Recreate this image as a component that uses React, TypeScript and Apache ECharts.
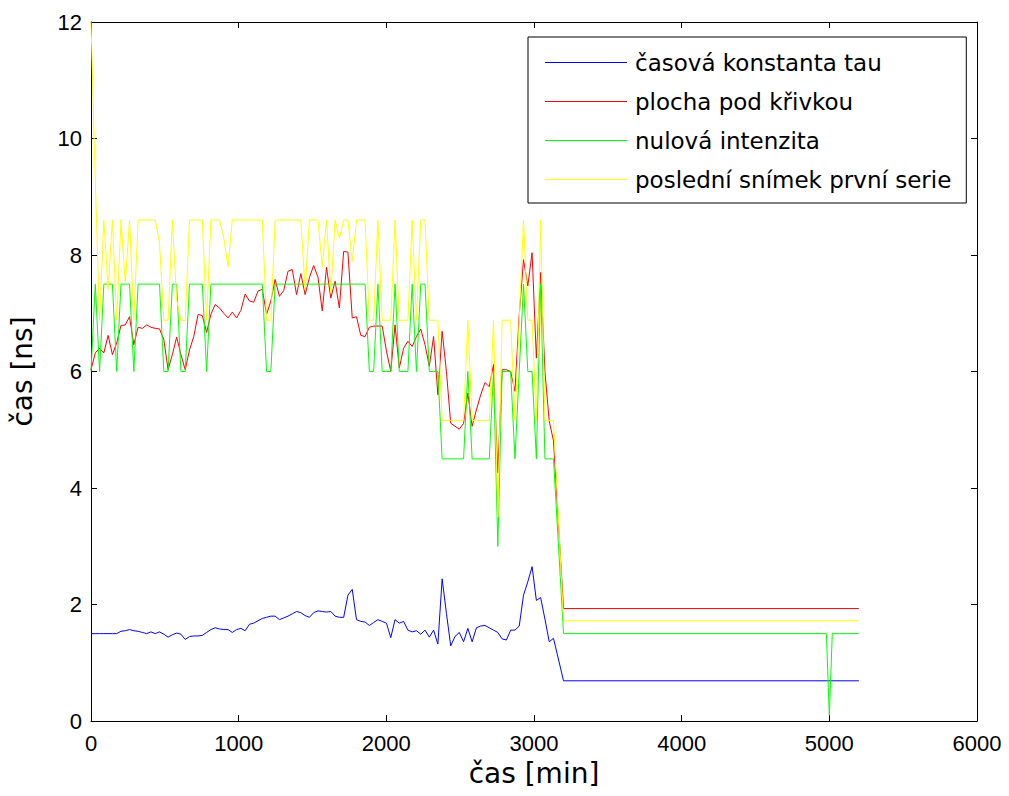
import React, { useEffect, useRef } from "react";
import * as echarts from "echarts";

// time stamps of the measured part [min]
const times = [
  0, 29, 58, 87, 116, 145, 174, 203, 232, 261, 290, 319, 348, 377, 406, 435, 464, 493, 522, 551,
  580, 609, 638, 667, 696, 725, 754, 783, 812, 841, 870, 899, 928, 957, 986, 1015, 1044, 1073, 1102, 1131,
  1160, 1189, 1218, 1247, 1276, 1305, 1334, 1363, 1392, 1421, 1450, 1479, 1508, 1537, 1566, 1595, 1624, 1653, 1682, 1711,
  1740, 1769, 1798, 1827, 1856, 1885, 1914, 1943, 1972, 2001, 2030, 2059, 2088, 2117, 2146, 2175, 2204, 2233, 2262, 2291,
  2320, 2349, 2378, 2407, 2436, 2465, 2494, 2523, 2552, 2581, 2610, 2639, 2668, 2697, 2726, 2755, 2784, 2813, 2842, 2871,
  2900, 2929, 2958, 2987, 3016, 3045, 3074, 3103, 3132,
];

const tauValues = [
  1.5, 1.5, 1.5, 1.5, 1.5, 1.5, 1.5, 1.54, 1.55, 1.57, 1.55, 1.54, 1.52, 1.5, 1.53, 1.5, 1.53, 1.49, 1.44, 1.48,
  1.51, 1.49, 1.4, 1.45, 1.46, 1.46, 1.47, 1.52, 1.57, 1.6, 1.58, 1.57, 1.57, 1.52, 1.57, 1.59, 1.55, 1.66, 1.68, 1.72,
  1.76, 1.78, 1.8, 1.8, 1.74, 1.77, 1.8, 1.84, 1.88, 1.86, 1.81, 1.78, 1.86, 1.89, 1.88, 1.87, 1.88, 1.8, 1.78, 1.78,
  2.16, 2.26, 1.74, 1.71, 1.7, 1.64, 1.69, 1.74, 1.71, 1.68, 1.43, 1.74, 1.68, 1.71, 1.56, 1.53, 1.55, 1.49, 1.56, 1.44,
  1.56, 1.32, 2.44, 1.85, 1.29, 1.45, 1.52, 1.36, 1.59, 1.36, 1.6, 1.63, 1.64, 1.6, 1.56, 1.52, 1.41, 1.39, 1.56, 1.56,
  1.63, 2.16, 2.39, 2.65, 2.07, 2.12, 1.75, 1.36, 1.42,
];

const areaValues = [
  6.03, 6.32, 6.4, 6.32, 6.62, 6.29, 6.49, 6.79, 6.8, 6.94, 6.46, 6.76, 6.74, 6.8, 6.76, 6.74, 6.73, 6.55, 6.03, 6.29,
  6.59, 6.29, 6.03, 6.37, 6.6, 6.98, 6.96, 6.67, 6.98, 7.15, 7.09, 7.0, 6.92, 7.02, 6.92, 7.05, 7.33, 7.21, 7.19, 7.38,
  7.41, 6.98, 7.21, 7.58, 7.29, 7.39, 7.72, 7.75, 7.32, 7.68, 7.32, 7.61, 7.82, 7.62, 7.04, 7.79, 7.26, 7.55, 7.09, 8.06,
  8.05, 6.92, 6.94, 6.62, 6.6, 6.76, 6.78, 6.78, 6.78, 6.35, 6.0, 6.8, 6.06, 6.4, 6.52, 6.43, 6.6, 6.73, 6.46, 6.09,
  6.6, 5.6, 6.69, 6.0, 5.11, 5.06, 5.01, 5.11, 5.63, 5.06, 5.34, 5.6, 5.81, 5.74, 6.12, 4.26, 6.03, 6.03, 6.0, 5.66,
  6.97, 7.92, 7.47, 8.04, 6.23, 7.7, 6.0, 5.15, 4.81,
];

const zeroValues = [
  6, 7.5, 6, 7.5, 7.5, 7.5, 6, 7.5, 7.5, 7.5, 6, 7.5, 7.5, 7.5, 7.5, 7.5, 7.5, 6, 6, 7.5,
  7.5, 6, 6, 7.5, 7.5, 7.5, 7.5, 6, 7.5, 7.5, 7.5, 7.5, 7.5, 7.5, 7.5, 7.5, 7.5, 7.5, 7.5, 7.5,
  7.5, 6, 6, 7.5, 7.5, 7.5, 7.5, 7.5, 7.5, 7.5, 7.5, 7.5, 7.5, 7.5, 7.5, 7.5, 7.5, 7.5, 7.5, 7.5,
  7.5, 7.5, 7.5, 7.5, 7.5, 6, 6, 7.5, 6, 6, 6, 7.5, 6, 6, 6, 7.5, 6, 7.5, 7.5, 6,
  6, 6, 4.5, 4.5, 4.5, 4.5, 4.5, 4.5, 6, 4.5, 4.5, 4.5, 4.5, 4.5, 6, 3.0, 6, 6, 6, 4.5,
  6, 7.5, 6, 6, 4.5, 7.5, 4.5, 4.5, 4.5,
];

const lastValues = [
  12, 9.3, 6.88, 8.6, 7.41, 8.6, 6.88, 8.6, 7.52, 8.6, 6.88, 8.6, 8.6, 8.6, 8.6, 8.6, 8.21, 6.88, 6.88, 8.6,
  7.23, 6.88, 6.88, 8.6, 8.6, 8.6, 8.6, 6.88, 8.6, 8.6, 8.6, 8.3, 7.8, 8.6, 8.6, 8.6, 8.6, 8.6, 8.6, 8.6,
  8.6, 6.88, 6.88, 8.6, 8.6, 8.6, 8.6, 8.6, 8.6, 8.6, 7.41, 8.6, 8.6, 8.6, 7.8, 8.6, 7.35, 8.6, 8.29, 8.6,
  8.6, 7.89, 8.6, 8.6, 8.6, 6.88, 6.88, 8.6, 6.88, 6.88, 6.88, 8.6, 6.88, 6.88, 6.88, 8.6, 6.88, 8.6, 8.6, 6.88,
  6.88, 6.88, 5.16, 5.16, 5.16, 5.16, 5.16, 5.16, 6.88, 5.16, 5.16, 5.16, 5.16, 5.16, 6.88, 3.5, 6.88, 6.88, 6.88, 5.16,
  6.88, 8.6, 6.88, 6.88, 5.16, 8.6, 5.16, 5.16, 5.16,
];

// settled part after the drop
const tailTimes = [3200, 5200];
const tauTail = [0.69, 0.69];
const areaTail = [1.93, 1.93];
const lastTail = [1.72, 1.72];
const zeroTailTimes = [3200, 4980, 5000, 5020, 5200];
const zeroTail = [1.5, 1.5, 0.1, 1.5, 1.5];

const seriesNames = [
  "časová konstanta tau",
  "plocha pod křivkou",
  "nulová intenzita",
  "poslední snímek první serie",
];
const seriesColors = ["#0000ff", "#ff0000", "#00ff00", "#ffff00"];

const xTicks = { min: 0, max: 6000, interval: 1000 };
const yTicks = { min: 0, max: 12, interval: 2 };

const pairs = (t: number[], v: number[]) => t.map((x, i) => [x, v[i]]);

const TICK_FONT = "'Liberation Sans', Arial, sans-serif";
const TEXT_FONT = "'DejaVu Sans', sans-serif";

export default function App() {
  const ref = useRef<HTMLDivElement>(null);
  useEffect(() => {
    if (!ref.current) return;
    const chart = echarts.init(ref.current, undefined, { renderer: "svg" });
    const seriesData = [
      pairs(times, tauValues).concat(pairs(tailTimes, tauTail)),
      pairs(times, areaValues).concat(pairs(tailTimes, areaTail)),
      pairs(times, zeroValues).concat(pairs(zeroTailTimes, zeroTail)),
      pairs(times, lastValues).concat(pairs(tailTimes, lastTail)),
    ];
    const axisLine = { show: true, onZero: false, lineStyle: { color: "#000", width: 1 } };
    const tick = { show: true, inside: true, length: 6, lineStyle: { color: "#000" } };
    const labelFmt = (v: number) => String(v);
    chart.setOption({
      animation: false,
      backgroundColor: "#fff",
      grid: {
        left: 91,
        right: 32,
        top: 22,
        bottom: 75,
        containLabel: false,
        outerBoundsMode: "none",
      },
      legend: {
        orient: "vertical",
        left: 528,
        top: 37,
        itemWidth: 82,
        itemHeight: 1,
        itemGap: 16,
        icon: "rect",
        padding: [14, 15, 12, 17],
        borderColor: "#000",
        borderWidth: 1,
        backgroundColor: "#fff",
        textStyle: {
          fontFamily: TEXT_FONT,
          fontSize: 23,
          color: "#000",
          lineHeight: 22,
          padding: [0, 0, 0, 3],
        },
        data: seriesNames,
      },
      xAxis: [
        {
          type: "value",
          ...xTicks,
          position: "bottom",
          name: "čas [min]",
          nameLocation: "middle",
          nameGap: 38,
          nameTextStyle: { fontFamily: TEXT_FONT, fontSize: 28, color: "#000" },
          axisLine,
          axisTick: tick,
          axisLabel: { fontFamily: TICK_FONT, fontSize: 22, color: "#000", margin: 11, formatter: labelFmt },
          splitLine: { show: false },
        },
        {
          type: "value",
          ...xTicks,
          position: "top",
          axisLine,
          axisTick: tick,
          axisLabel: { show: false },
          splitLine: { show: false },
        },
      ],
      yAxis: [
        {
          type: "value",
          ...yTicks,
          position: "left",
          name: "čas [ns]",
          nameLocation: "middle",
          nameGap: 55,
          nameTextStyle: { fontFamily: TEXT_FONT, fontSize: 28, color: "#000" },
          axisLine,
          axisTick: tick,
          axisLabel: { fontFamily: TICK_FONT, fontSize: 22, color: "#000", margin: 9, formatter: labelFmt },
          splitLine: { show: false },
        },
        {
          type: "value",
          ...yTicks,
          position: "right",
          axisLine,
          axisTick: tick,
          axisLabel: { show: false },
          splitLine: { show: false },
        },
      ],
      series: seriesNames.map((name, i) => ({
        name,
        type: "line",
        xAxisIndex: 0,
        yAxisIndex: 0,
        data: seriesData[i],
        symbol: "none",
        showSymbol: false,
        color: seriesColors[i],
        lineStyle: { color: seriesColors[i], width: 1 },
        emphasis: { disabled: true },
      })),
    });
    return () => chart.dispose();
  }, []);
  return (
    <div
      ref={ref}
      style={{ position: "fixed", left: 0, top: 0, width: 1009, height: 796, background: "#fff" }}
    />
  );
}
